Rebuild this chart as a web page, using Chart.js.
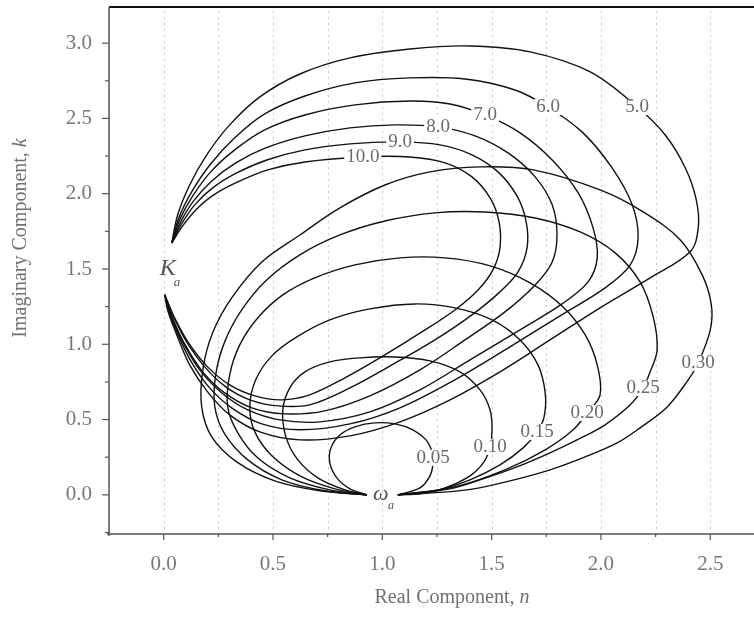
<!DOCTYPE html>
<html>
<head>
<meta charset="utf-8">
<script src="https://cdn.jsdelivr.net/npm/chart.js@4.4.1/dist/chart.umd.min.js"></script>
<style>
html, body { margin: 0; padding: 0; background: #fff; }
</style>
</head>
<body>
<canvas id="nk_graph" width="754" height="618"></canvas>
<script>
// loops that leave K_a and come back to it, [n, k]
const loop50 = [[0.037,1.673],[0.064,1.859],[0.119,2.058],[0.197,2.258],[0.302,2.457],[0.440,2.643],[0.623,2.795],[0.852,2.902],[1.126,2.961],[1.401,2.981],[1.676,2.942],[1.951,2.809],[2.166,2.576],[2.294,2.390],[2.386,2.171],[2.436,1.959],[2.445,1.773],[2.408,1.614],[2.225,1.441],[1.996,1.242],[1.767,1.029],[1.538,0.817],[1.310,0.631],[1.081,0.485],[0.852,0.392],[0.623,0.365],[0.440,0.418],[0.302,0.531],[0.201,0.684],[0.119,0.863],[0.060,1.062],[0.018,1.228],[0.005,1.328]];
const loop60 = [[0.037,1.673],[0.069,1.839],[0.128,2.012],[0.211,2.191],[0.325,2.371],[0.462,2.530],[0.646,2.649],[0.875,2.736],[1.126,2.769],[1.378,2.762],[1.607,2.689],[1.758,2.576],[1.918,2.404],[2.051,2.171],[2.143,1.926],[2.170,1.707],[2.134,1.527],[2.019,1.375],[1.813,1.189],[1.584,0.983],[1.332,0.764],[1.081,0.578],[0.852,0.471],[0.623,0.432],[0.449,0.471],[0.311,0.578],[0.206,0.717],[0.124,0.890],[0.064,1.069],[0.023,1.222],[0.005,1.328]];
const loop70 = [[0.037,1.673],[0.073,1.826],[0.133,1.985],[0.215,2.145],[0.325,2.291],[0.462,2.424],[0.646,2.523],[0.875,2.590],[1.126,2.616],[1.310,2.596],[1.470,2.523],[1.630,2.404],[1.777,2.224],[1.896,2.005],[1.964,1.773],[1.983,1.574],[1.941,1.414],[1.822,1.268],[1.630,1.096],[1.401,0.896],[1.172,0.697],[0.943,0.551],[0.714,0.485],[0.531,0.498],[0.385,0.564],[0.266,0.677],[0.165,0.830],[0.092,1.003],[0.037,1.175],[0.005,1.328]];
const loop80 = [[0.037,1.673],[0.078,1.813],[0.137,1.952],[0.220,2.085],[0.330,2.205],[0.467,2.304],[0.646,2.384],[0.852,2.437],[1.058,2.457],[1.255,2.444],[1.424,2.384],[1.575,2.271],[1.699,2.112],[1.777,1.926],[1.799,1.726],[1.777,1.547],[1.699,1.394],[1.561,1.215],[1.378,1.029],[1.172,0.830],[0.943,0.657],[0.737,0.558],[0.554,0.538],[0.403,0.578],[0.279,0.677],[0.179,0.817],[0.101,0.989],[0.041,1.175],[0.005,1.328]];
const loop90 = [[0.037,1.673],[0.082,1.799],[0.142,1.926],[0.224,2.039],[0.334,2.138],[0.472,2.224],[0.646,2.291],[0.852,2.331],[1.081,2.344],[1.264,2.324],[1.410,2.258],[1.529,2.145],[1.616,1.985],[1.658,1.813],[1.662,1.640],[1.621,1.481],[1.538,1.348],[1.410,1.195],[1.241,1.029],[1.044,0.863],[0.852,0.710],[0.668,0.598],[0.522,0.591],[0.394,0.631],[0.284,0.717],[0.188,0.850],[0.105,1.016],[0.046,1.182],[0.005,1.328]];
const loop100 = [[0.037,1.673],[0.087,1.786],[0.147,1.892],[0.229,1.992],[0.339,2.078],[0.476,2.158],[0.646,2.211],[0.911,2.244],[1.126,2.244],[1.287,2.205],[1.410,2.112],[1.493,1.972],[1.534,1.813],[1.538,1.640],[1.506,1.494],[1.438,1.361],[1.332,1.228],[1.181,1.082],[1.012,0.930],[0.829,0.777],[0.668,0.664],[0.540,0.631],[0.417,0.657],[0.302,0.730],[0.201,0.850],[0.114,1.009],[0.050,1.175],[0.005,1.328]];

// loops that leave omega_a and come back to it, [n, k]
const loop005 = [[0.929,0],[0.852,0.040],[0.792,0.113],[0.760,0.212],[0.765,0.312],[0.806,0.398],[0.875,0.452],[0.966,0.478],[1.058,0.471],[1.140,0.432],[1.200,0.365],[1.227,0.286],[1.232,0.212],[1.218,0.126],[1.172,0.046],[1.071,0]];
const loop010 = [[0.929,0],[0.829,0.033],[0.705,0.113],[0.614,0.232],[0.559,0.385],[0.545,0.564],[0.577,0.711],[0.646,0.817],[0.760,0.883],[0.897,0.910],[1.058,0.916],[1.218,0.890],[1.355,0.817],[1.447,0.697],[1.493,0.564],[1.502,0.432],[1.493,0.319],[1.465,0.219],[1.401,0.126],[1.287,0.046],[1.172,0.007],[1.071,0]];
const loop015 = [[0.929,0],[0.783,0.040],[0.623,0.126],[0.495,0.259],[0.417,0.418],[0.394,0.584],[0.421,0.764],[0.495,0.923],[0.609,1.049],[0.760,1.162],[0.943,1.235],[1.149,1.268],[1.332,1.242],[1.502,1.162],[1.630,1.029],[1.712,0.863],[1.745,0.677],[1.740,0.518],[1.708,0.418],[1.644,0.312],[1.538,0.199],[1.401,0.100],[1.241,0.027],[1.071,0]];
const loop020 = [[0.929,0],[0.760,0.033],[0.577,0.113],[0.430,0.246],[0.339,0.412],[0.293,0.584],[0.302,0.797],[0.348,0.996],[0.430,1.175],[0.545,1.328],[0.691,1.441],[0.875,1.527],[1.081,1.574],[1.287,1.574],[1.493,1.521],[1.676,1.408],[1.827,1.248],[1.928,1.062],[1.983,0.863],[1.996,0.664],[1.937,0.544],[1.873,0.432],[1.745,0.299],[1.561,0.166],[1.332,0.053],[1.071,0]];
const loop025 = [[0.929,0],[0.737,0.027],[0.540,0.100],[0.385,0.232],[0.279,0.405],[0.234,0.584],[0.238,0.797],[0.279,1.016],[0.357,1.228],[0.472,1.428],[0.623,1.594],[0.806,1.726],[1.012,1.819],[1.241,1.873],[1.470,1.879],[1.699,1.839],[1.905,1.746],[2.065,1.607],[2.179,1.414],[2.239,1.182],[2.257,0.963],[2.225,0.817],[2.193,0.710],[2.134,0.598],[2.019,0.465],[1.918,0.385],[1.767,0.279],[1.616,0.186],[1.447,0.100],[1.310,0.040],[1.071,0]];
const loop030 = [[0.929,0],[0.714,0.027],[0.508,0.093],[0.334,0.219],[0.220,0.385],[0.174,0.584],[0.179,0.830],[0.224,1.076],[0.311,1.308],[0.449,1.547],[0.623,1.726],[0.806,1.906],[1.012,2.058],[1.218,2.145],[1.447,2.178],[1.690,2.158],[1.996,2.025],[2.193,1.879],[2.363,1.693],[2.463,1.461],[2.505,1.262],[2.500,1.096],[2.445,0.876],[2.399,0.764],[2.303,0.584],[2.179,0.445],[2.074,0.345],[1.928,0.252],[1.767,0.166],[1.584,0.093],[1.387,0.033],[1.071,0]];

const curves = [loop50, loop60, loop70, loop80, loop90, loop100, loop005, loop010, loop015, loop020, loop025, loop030];

// curve labels
const labelText = ['5.0', '6.0', '7.0', '8.0', '9.0', '10.0', '0.05', '0.10', '0.15', '0.20', '0.25', '0.30'];
const labelN = [2.166, 1.758, 1.470, 1.255, 1.081, 0.911, 1.232, 1.493, 1.708, 1.937, 2.193, 2.445];
const labelK = [2.576, 2.576, 2.523, 2.444, 2.344, 2.244, 0.246, 0.319, 0.418, 0.544, 0.710, 0.876];

const xTicks = [0, 0.5, 1.0, 1.5, 2.0, 2.5];
const yTicks = [0, 0.5, 1.0, 1.5, 2.0, 2.5, 3.0];

const serif = '"Liberation Serif", "DejaVu Serif", serif';

// axes, minor ticks and dotted verticals
const frame = {
    id: 'frame',
    beforeDatasetsDraw(chart) {
        const { ctx, chartArea: a, scales: { x } } = chart;
        ctx.save();
        ctx.strokeStyle = '#c8c8c8';
        ctx.lineWidth = 1;
        ctx.setLineDash([2, 4]);
        for (let v = 0; v <= 2.5001; v += 0.25) {
            const px = Math.round(x.getPixelForValue(v)) + 0.5;
            ctx.beginPath();
            ctx.moveTo(px, a.top + 4);
            ctx.lineTo(px, a.bottom);
            ctx.stroke();
        }
        ctx.restore();
    },
    afterDatasetsDraw(chart) {
        const { ctx, chartArea: a, scales: { x, y } } = chart;
        ctx.save();
        ctx.strokeStyle = '#111';
        ctx.lineWidth = 2;
        ctx.beginPath();
        ctx.moveTo(a.left, a.top);
        ctx.lineTo(a.right, a.top);
        ctx.stroke();
        ctx.strokeStyle = '#555';
        ctx.lineWidth = 1.5;
        ctx.beginPath();
        ctx.moveTo(a.left, a.top);
        ctx.lineTo(a.left, a.bottom + 2);
        ctx.moveTo(a.left - 2, a.bottom);
        ctx.lineTo(a.right, a.bottom);
        ctx.stroke();
        ctx.lineWidth = 1.2;
        for (let v = 0; v <= 2.5001; v += 0.25) {
            const px = x.getPixelForValue(v);
            const major = Math.abs(v / 0.5 - Math.round(v / 0.5)) < 0.01;
            ctx.beginPath();
            ctx.moveTo(px, a.bottom);
            ctx.lineTo(px, a.bottom + (major ? 6 : 3));
            ctx.stroke();
        }
        for (let v = -0.25; v <= 3.2; v += 0.25) {
            const py = y.getPixelForValue(v);
            const major = Math.abs(v / 0.5 - Math.round(v / 0.5)) < 0.01;
            ctx.beginPath();
            ctx.moveTo(a.left, py);
            ctx.lineTo(a.left - (major ? 7 : 4), py);
            ctx.stroke();
        }

        // curve labels sit in a gap of their own line
        ctx.font = '19px ' + serif;
        ctx.textAlign = 'center';
        ctx.textBaseline = 'middle';
        labelText.forEach(function (t, i) {
            const px = x.getPixelForValue(labelN[i]);
            const py = y.getPixelForValue(labelK[i]);
            const w = ctx.measureText(t).width;
            ctx.fillStyle = '#fff';
            ctx.fillRect(px - w / 2 - 2, py - 8, w + 4, 16);
            ctx.fillStyle = '#6a6a6a';
            ctx.fillText(t, px, py);
        });

        // K_a and omega_a
        ctx.fillStyle = '#555';
        ctx.textAlign = 'left';
        ctx.font = 'italic 24px ' + serif;
        ctx.fillText('K', x.getPixelForValue(-0.018), y.getPixelForValue(1.50));
        ctx.font = 'italic 13px ' + serif;
        ctx.fillText('a', x.getPixelForValue(0.046), y.getPixelForValue(1.41));
        ctx.font = 'italic 22px ' + serif;
        ctx.fillText('\u03c9', x.getPixelForValue(0.957), y.getPixelForValue(0.007));
        ctx.font = 'italic 12px ' + serif;
        ctx.fillText('a', x.getPixelForValue(1.026), y.getPixelForValue(-0.073));

        // axis titles
        ctx.fillStyle = '#707070';
        ctx.textBaseline = 'middle';
        ctx.font = '20px ' + serif;
        const xt = 'Real Component, ';
        const xw = ctx.measureText(xt).width;
        ctx.font = 'italic 20px ' + serif;
        const nw = ctx.measureText('n').width;
        let sx = 452 - (xw + nw) / 2;
        ctx.font = '20px ' + serif;
        ctx.fillText(xt, sx, 598);
        ctx.font = 'italic 20px ' + serif;
        ctx.fillText('n', sx + xw, 598);

        ctx.translate(21, 238);
        ctx.rotate(-Math.PI / 2);
        ctx.font = '20px ' + serif;
        const yt = 'Imaginary Component, ';
        const yw = ctx.measureText(yt).width;
        ctx.font = 'italic 20px ' + serif;
        const kw = ctx.measureText('k').width;
        sx = -(yw + kw) / 2;
        ctx.font = '20px ' + serif;
        ctx.fillText(yt, sx, 0);
        ctx.font = 'italic 20px ' + serif;
        ctx.fillText('k', sx + yw, 0);
        ctx.restore();
    }
};

const datasets = curves.map(function (c) {
    return {
        data: c.map(function (p) { return { x: p[0], y: p[1] }; }),
        showLine: true,
        borderColor: '#111',
        borderWidth: 1.4,
        pointRadius: 0,
        tension: 0.35,
        fill: false
    };
});

new Chart(document.getElementById('nk_graph'), {
    type: 'scatter',
    data: { datasets: datasets },
    options: {
        responsive: false,
        animation: false,
        layout: { padding: { top: 7, right: 0, left: 0, bottom: 0 } },
        plugins: { legend: { display: false }, tooltip: { enabled: false } },
        scales: {
            x: {
                type: 'linear',
                min: -0.25,
                max: 2.70,
                grid: { display: false, drawTicks: false },
                border: { display: false },
                afterBuildTicks: function (scale) {
                    scale.ticks = xTicks.map(function (v) { return { value: v }; });
                },
                afterFit: function (scale) {
                    scale.height = 84;
                    scale.paddingLeft = 0;
                    scale.paddingRight = 0;
                },
                ticks: {
                    padding: 18,
                    color: '#777',
                    font: { family: serif, size: 21 },
                    maxRotation: 0,
                    callback: function (v) { return Number(v).toFixed(1); }
                }
            },
            y: {
                type: 'linear',
                min: -0.26,
                max: 3.24,
                grid: { display: false, drawTicks: false },
                border: { display: false },
                afterBuildTicks: function (scale) {
                    scale.ticks = yTicks.map(function (v) { return { value: v }; });
                },
                afterFit: function (scale) {
                    scale.width = 109;
                    scale.paddingTop = 0;
                    scale.paddingBottom = 0;
                },
                ticks: {
                    padding: 17,
                    color: '#777',
                    font: { family: serif, size: 21 },
                    callback: function (v) { return Number(v).toFixed(1); }
                }
            }
        }
    },
    plugins: [frame]
});
</script>
</body>
</html>
